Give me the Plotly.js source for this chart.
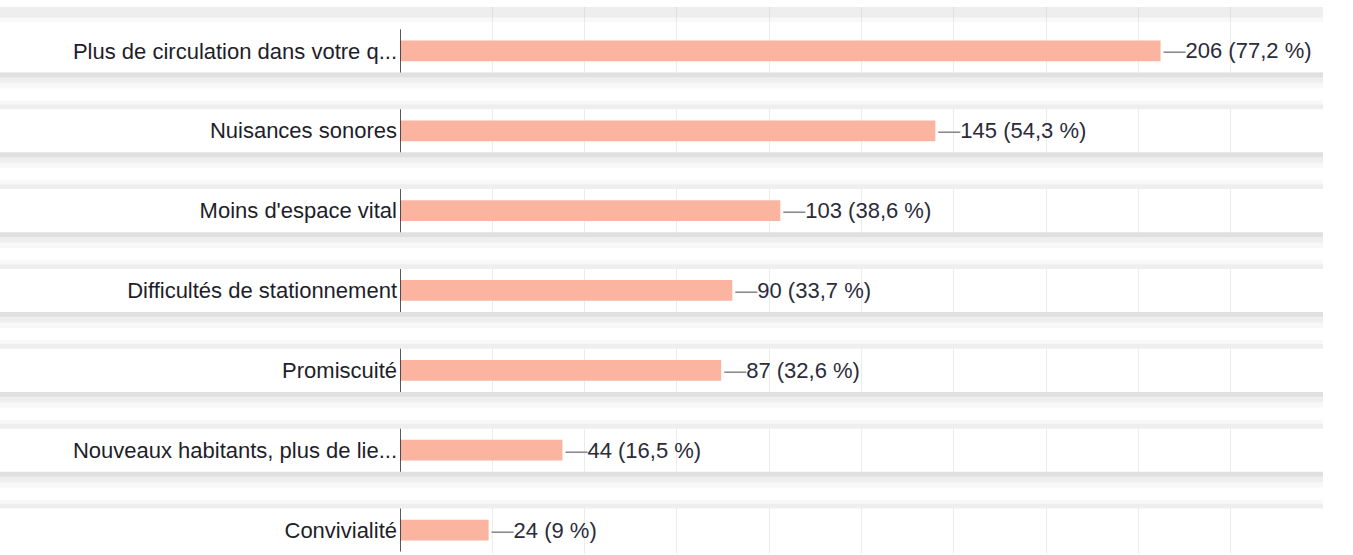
<!DOCTYPE html>
<html>
<head>
<meta charset="utf-8">
<script src="https://cdn.plot.ly/plotly-3.0.1.min.js"></script>
<style>
  html, body { margin: 0; padding: 0; background: #fff; }
  #chart { width: 1353px; height: 555px; }
</style>
</head>
<body>
<div id="chart"></div>
<script>
// answers, top to bottom
const categories = [
    "Plus de circulation dans votre q...",
    "Nuisances sonores",
    "Moins d'espace vital",
    "Difficultés de stationnement",
    "Promiscuité",
    "Nouveaux habitants, plus de lie...",
    "Convivialité"
];
const counts = [206, 145, 103, 90, 87, 44, 24];
const percents = ["77,2 %", "54,3 %", "38,6 %", "33,7 %", "32,6 %", "16,5 %", "9 %"];

const labels = counts.map((c, i) =>
    '<span style="color:#8a8a8a">—</span>' + c + " (" + percents[i] + ")");

const trace = {
    type: "bar",
    orientation: "h",
    x: counts,
    y: categories,
    width: 0.26,
    marker: { color: "#fbb4a0" },
    text: labels,
    textposition: "outside",
    constraintext: "none",
    cliponaxis: false,
    textfont: { family: "Liberation Sans, Arial, sans-serif", size: 22, color: "#2b2b3a" },
    hoverinfo: "none"
};

// white strips with soft grey shadows between rows, and the short axis line per row
const shapes = [];
function band(y0, y1, op) {
    shapes.push({ type: "rect", xref: "paper", yref: "y", x0: -0.44, x1: 1.0,
        y0: y0, y1: y1, fillcolor: "#c8c8c8", opacity: op, line: { width: 0 }, layer: "above" });
}
categories.forEach((cat, i) => {
    if (i < categories.length - 1) {
        shapes.push({ type: "rect", xref: "paper", yref: "y", x0: -0.5, x1: 1.05,
            y0: i + 0.27, y1: i + 0.73, fillcolor: "#ffffff", line: { width: 0 }, layer: "above" });
        // shadow under the strip, fading downward
        band(i + 0.27, i + 0.33, 0.35);
        band(i + 0.27, i + 0.40, 0.2);
        band(i + 0.27, i + 0.47, 0.12);
        // lighter shadow over the next strip
        band(i + 0.62, i + 0.73, 0.12);
        band(i + 0.67, i + 0.73, 0.2);
    }
    shapes.push({ type: "line", xref: "x", yref: "y", x0: 0, x1: 0,
        y0: i - 0.27, y1: i + 0.27, line: { color: "#222", width: 1.5 }, layer: "above" });
});
band(-0.55, -0.36, 0.12);
band(-0.55, -0.42, 0.2);

const layout = {
    width: 1353,
    height: 555,
    margin: { l: 400, r: 30, t: 7, b: 1 },
    paper_bgcolor: "#ffffff",
    plot_bgcolor: "#ffffff",
    showlegend: false,
    font: { family: "Liberation Sans, Arial, sans-serif", size: 22, color: "#2b2b3a" },
    xaxis: {
        range: [0, 250],
        dtick: 25,
        showgrid: true,
        gridcolor: "#ececec",
        showticklabels: false,
        zeroline: false,
        showline: false,
        fixedrange: true
    },
    yaxis: {
        type: "category",
        range: [6.3, -0.55],
        showgrid: false,
        showline: false,
        zeroline: false,
        ticks: "",
        ticklabelstandoff: 2,
        tickfont: { family: "Liberation Sans, Arial, sans-serif", size: 22, color: "#1e1e2a" },
        fixedrange: true
    },
    shapes: shapes
};

Plotly.newPlot("chart", [trace], layout, { displayModeBar: false, staticPlot: true });
</script>
</body>
</html>
